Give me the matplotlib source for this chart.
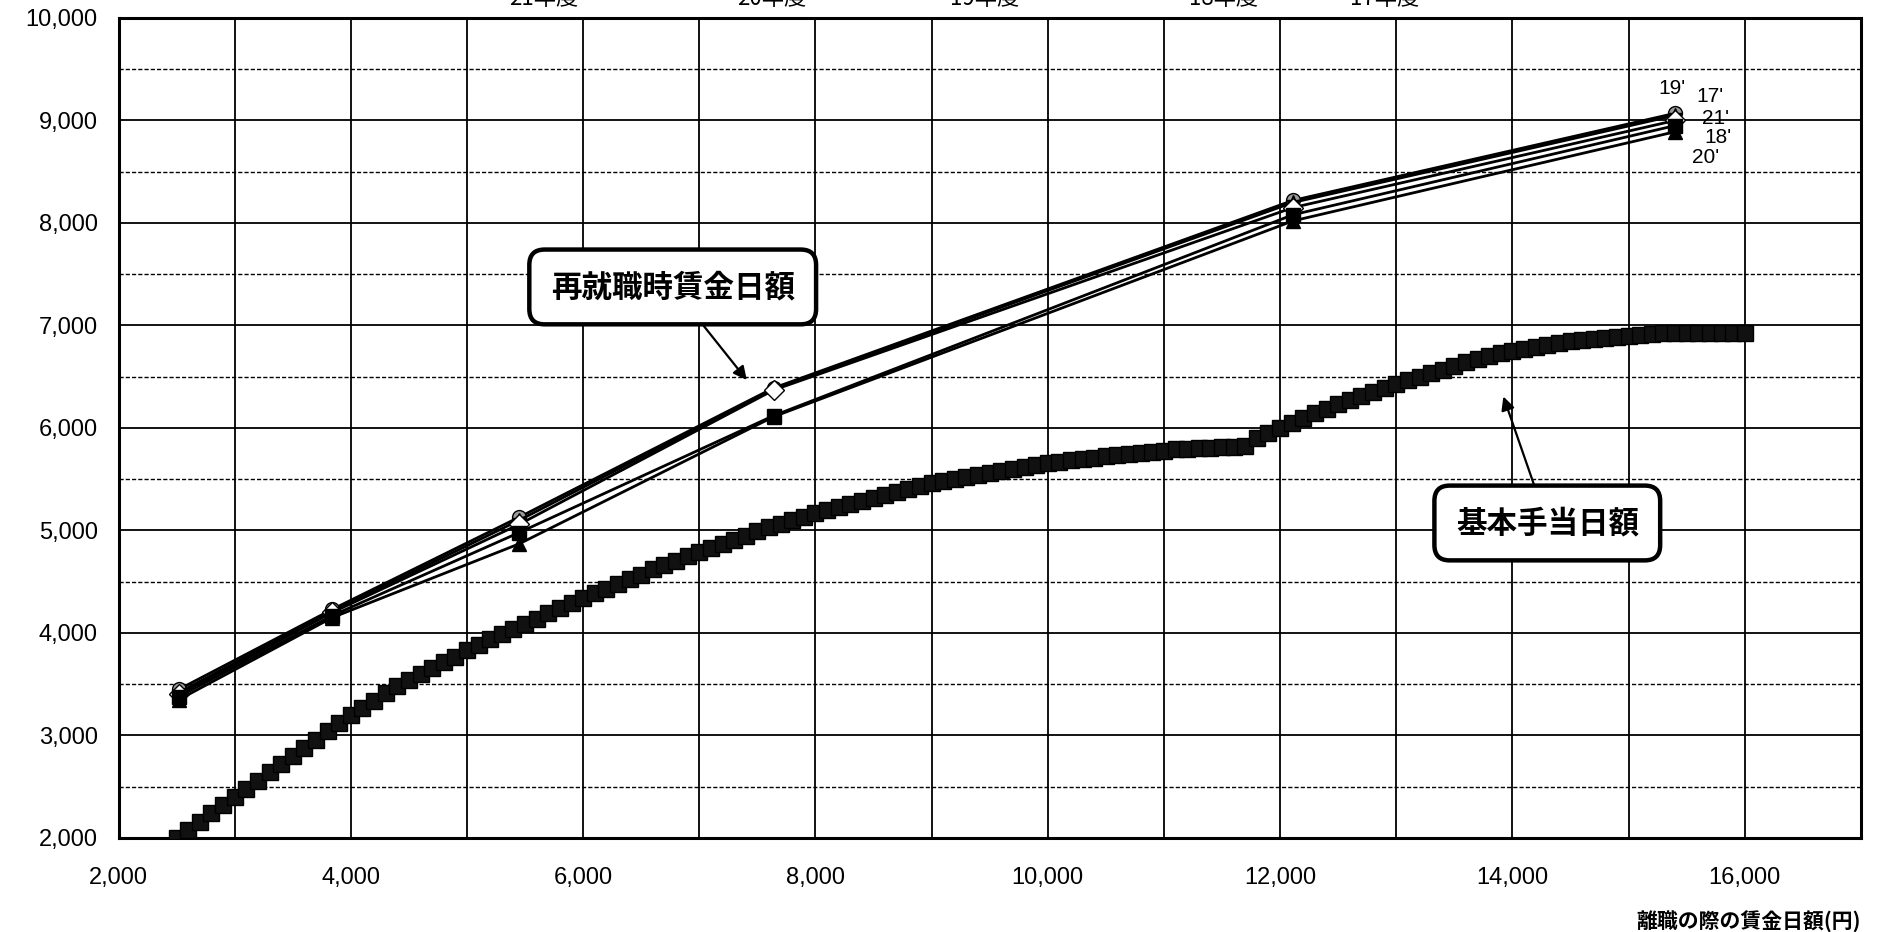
import matplotlib
matplotlib.use("Agg")
import matplotlib.pyplot as plt
from matplotlib.ticker import MultipleLocator, FuncFormatter

plt.rcParams['font.family'] = ['Liberation Sans', 'Noto Sans CJK JP', 'DejaVu Sans']

# ---- data ----
wage_points = [2520, 3840, 5450, 7640, 12110, 15400]
series_labels = ["19'", "17'", "21'", "18'", "20'"]
series_19 = [3450, 4230, 5130, 6390, 8220, 9070]
series_17 = [3420, 4210, 5100, 6380, 8200, 9050]
series_21 = [3400, 4200, 5060, 6370, 8150, 9000]
series_18 = [3380, 4170, 4980, 6120, 8080, 8950]
series_20 = [3350, 4150, 4870, 6110, 8020, 8890]

base_wage = list(range(2500, 16001, 100))
base_allowance = [
    2000, 2080, 2160, 2240, 2320, 2400, 2480, 2560, 2640, 2720,   # 2500-3400
    2800, 2880, 2960, 3040, 3120, 3200, 3270, 3340, 3410, 3480,   # 3500-4400
    3540, 3600, 3660, 3720, 3770, 3830, 3880, 3940, 3990, 4040,   # 4500-5400
    4090, 4140, 4190, 4240, 4290, 4340, 4390, 4430, 4480, 4530,   # 5500-6400
    4570, 4620, 4660, 4700, 4750, 4790, 4830, 4870, 4910, 4950,   # 6500-7400
    4990, 5030, 5060, 5100, 5130, 5170, 5200, 5230, 5260, 5290,   # 7500-8400
    5320, 5350, 5380, 5400, 5430, 5460, 5480, 5500, 5520, 5540,   # 8500-9400
    5560, 5580, 5600, 5620, 5640, 5660, 5670, 5690, 5700, 5710,   # 9500-10400
    5730, 5740, 5750, 5760, 5770, 5780, 5790, 5790, 5800, 5800,   # 10500-11400
    5810, 5810, 5820, 5900, 5950, 6000, 6050, 6100, 6150, 6190,   # 11500-12400
    6230, 6270, 6310, 6350, 6390, 6430, 6470, 6500, 6540, 6570,   # 12500-13400
    6600, 6640, 6670, 6700, 6730, 6750, 6770, 6790, 6810, 6830,   # 13500-14400
    6850, 6860, 6870, 6880, 6890, 6900, 6910, 6920, 6930, 6930,   # 14500-15400
    6930, 6930, 6930, 6930, 6930, 6930,                           # 15500-16000
]

legend_labels = ['21年度', '20年度', '19年度', '18年度', '17年度']
xlabel = '離職の際の賃金日額(円)'
label_reemploy = '再就職時賃金日額'
label_basic = '基本手当日額'

# ---- figure ----
fig = plt.figure(figsize=(18.96, 9.32), dpi=100)
ax = fig.add_axes([0.0625, 0.1009, 0.919, 0.8798])

ax.set_xlim(2000, 17000)
ax.set_ylim(2000, 10000)
ax.xaxis.set_major_locator(MultipleLocator(2000))
ax.xaxis.set_minor_locator(MultipleLocator(1000))
ax.yaxis.set_major_locator(MultipleLocator(1000))
ax.yaxis.set_minor_locator(MultipleLocator(500))
fmt = FuncFormatter(lambda v, p: f"{int(v):,}")
ax.xaxis.set_major_formatter(fmt)
ax.yaxis.set_major_formatter(fmt)

ax.set_axisbelow(True)
ax.grid(which='both', axis='x', color='black', lw=1.3, ls='-')
ax.grid(which='major', axis='y', color='black', lw=1.3, ls='-')
ax.grid(which='minor', axis='y', color='black', lw=1.0, ls=(0, (3, 1.5)))
ax.tick_params(which='both', length=0)
ax.tick_params(axis='y', pad=15, labelsize=17)
ax.tick_params(axis='x', pad=21, labelsize=17)
for s in ax.spines.values():
    s.set_linewidth(2.2)
    s.set_color('black')

# basic allowance
ax.plot(base_wage, base_allowance, color='black', lw=2, marker='s',
        markersize=11.5, markerfacecolor='#111111', markeredgecolor='black', zorder=3)

# re-employment wage series
styles = [
    (series_19, 'o', '#9a9a9a'),
    (series_17, '*', 'black'),
    (series_21, 'D', 'white'),
    (series_18, 's', 'black'),
    (series_20, '^', 'black'),
]
for vals, mk, fc in styles:
    ax.plot(wage_points, vals, color='black', lw=2.0, marker=mk, markersize=10,
            markerfacecolor=fc, markeredgecolor='black', zorder=4)

# end labels
end_pos = [(15370, 9310), (15700, 9230), (15750, 9020), (15770, 8830), (15660, 8640)]
for lab, (xx, yy) in zip(series_labels, end_pos):
    ax.text(xx, yy, lab, fontsize=15, ha='center', va='center', color='black')

# callout boxes
box = dict(boxstyle='round,pad=0.7,rounding_size=0.5', fc='white', ec='black', lw=3.2)
arrow = dict(arrowstyle='-|>', color='black', lw=1.6, mutation_scale=20, shrinkA=0, shrinkB=0)
ax.annotate(label_reemploy, xy=(7409, 6468), xytext=(6771, 7376),
            ha='center', va='center', fontsize=22, fontweight='bold',
            family=['Noto Sans CJK JP'], bbox=box, arrowprops=arrow, zorder=6)
ax.annotate(label_basic, xy=(13922, 6307), xytext=(14300, 5073),
            ha='center', va='center', fontsize=22, fontweight='bold',
            family=['Noto Sans CJK JP'], bbox=box, arrowprops=arrow, zorder=6)

# x label
fig.text(1861 / 1896, 1 - 922 / 932, xlabel, ha='right', va='center', fontsize=15,
         fontweight='bold', family=['Noto Sans CJK JP'])

# legend at the top (cut off by the page edge in the original)
legend_x = [544, 772, 985, 1224, 1385]
for lab, px in zip(legend_labels, legend_x):
    fig.text(px / 1896, 1 + 1 / 932, lab, ha='center', va='center', fontsize=16,
             family=['Noto Sans CJK JP'])

fig.savefig('out.png', dpi=100)
